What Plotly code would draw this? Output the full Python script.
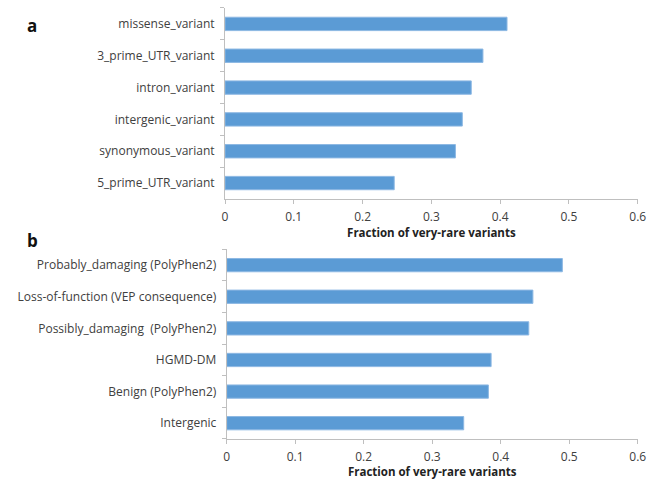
import plotly.graph_objects as go

cats_a = ["5_prime_UTR_variant", "synonymous_variant", "intergenic_variant",
          "intron_variant", "3_prime_UTR_variant", "missense_variant"]
vals_a = [0.246, 0.335, 0.345, 0.358, 0.375, 0.410]

cats_b = ["Intergenic", "Benign (PolyPhen2)", "HGMD-DM",
          "Possibly_damaging  (PolyPhen2)", "Loss-of-function (VEP consequence)",
          "Probably_damaging (PolyPhen2)"]
vals_b = [0.346, 0.382, 0.386, 0.441, 0.447, 0.490]

x_ticks = [0, 0.1, 0.2, 0.3, 0.4, 0.5, 0.6]
x_ticklabels = ["0", "0.1", "0.2", "0.3", "0.4", "0.5", "0.6"]
x_title = "Fraction of very-rare variants"

FONT = "Open Sans"
BAR = "#5B9BD5"
BARLINE = "#8DB8E3"
AX = "#BFBFBF"
TXT = "#404040"

fig = go.Figure()
fig.add_trace(go.Bar(x=vals_a, y=cats_a, orientation="h", width=0.42,
                     marker=dict(color=BAR, line=dict(color=BARLINE, width=1)),
                     xaxis="x", yaxis="y", showlegend=False, hoverinfo="skip"))
fig.add_trace(go.Bar(x=vals_b, y=cats_b, orientation="h", width=0.42,
                     marker=dict(color=BAR, line=dict(color=BARLINE, width=1)),
                     xaxis="x2", yaxis="y2", showlegend=False, hoverinfo="skip"))

xcommon = dict(range=[0, 0.6], tickvals=x_ticks, ticktext=x_ticklabels,
               showgrid=False, zeroline=False, showline=True, linecolor=AX,
               linewidth=1, ticks="outside", ticklen=4, tickcolor=AX,
               automargin=False, ticklabelstandoff=3,
               tickfont=dict(family=FONT, size=12, color=TXT),
               title=dict(text="<b>" + x_title + "</b>",
                          font=dict(family=FONT, size=11.5, color="#222222"),
                          standoff=2))
ycommon = dict(showgrid=False, zeroline=False, showline=True, linecolor=AX,
               linewidth=1, ticks="outside", ticklen=4, tickcolor=AX,
               tickson="boundaries", automargin=False, ticklabelstandoff=7,
               tickfont=dict(family=FONT, size=12, color=TXT))

fig.update_layout(
    width=649, height=479,
    margin=dict(l=0, r=0, t=0, b=0, autoexpand=False),
    paper_bgcolor="white", plot_bgcolor="white",
    xaxis=dict(domain=[0.3467, 0.9826], anchor="y", **xcommon),
    yaxis=dict(domain=[0.5846, 0.9833], anchor="x", **ycommon),
    xaxis2=dict(domain=[0.3493, 0.9826], anchor="y2", **xcommon),
    yaxis2=dict(domain=[0.0835, 0.4795], anchor="x2", **ycommon),
    bargap=0.58,
    annotations=[
        dict(text="<b>a</b>", x=32 / 649, y=1 - 25 / 479, xref="paper", yref="paper",
             showarrow=False, font=dict(family=FONT, size=17, color="#111111"),
             xanchor="center", yanchor="middle"),
        dict(text="<b>b</b>", x=32 / 649, y=1 - 240 / 479, xref="paper", yref="paper",
             showarrow=False, font=dict(family=FONT, size=17, color="#111111"),
             xanchor="center", yanchor="middle"),
    ],
)

fig.write_html("out.html", config={"displayModeBar": False},
               post_script="document.body.style.margin='0';document.body.style.overflow='hidden';")
